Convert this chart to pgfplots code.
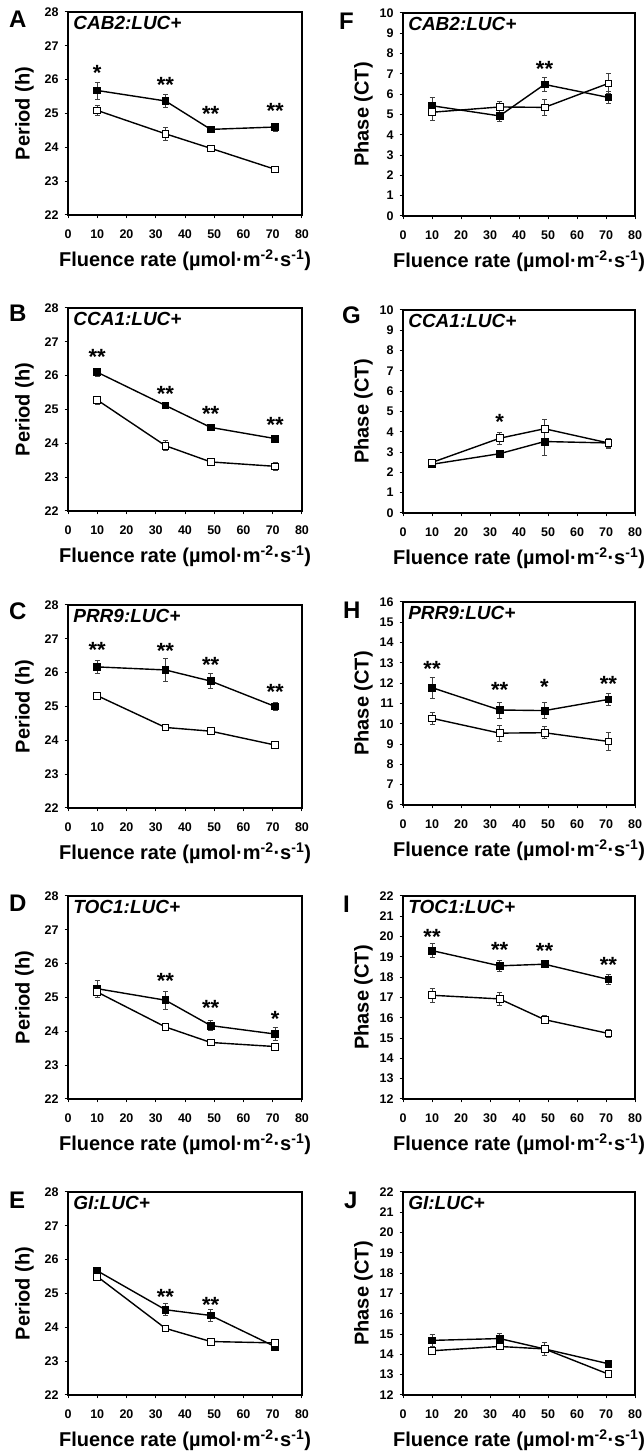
\documentclass[border=0pt]{standalone}
\usepackage{fontspec}
\setmainfont{Liberation Sans}
\usepackage{pgfplots}
\pgfplotsset{compat=1.18}

\newcommand{\tfont}{\fontsize{12.5}{12.5}\selectfont\bfseries}
\pgfplotsset{
  panel/.style={
    scale only axis, height=203pt,
    xmin=0, xmax=80, xtick={0,10,...,80},
    axis line style={line width=1.6pt},
    tick style={line width=1pt, black},
    tick align=outside, major tick length=3.5pt,
    xtick pos=bottom, ytick pos=left,
    /pgf/number format/assume math mode=true,
    xticklabel={\tfont\pgfmathprintnumber[assume math mode=true]{\tick}},
    yticklabel={\tfont\pgfmathprintnumber[assume math mode=true]{\tick}},
    xticklabel style={yshift=-8pt},
    yticklabel style={xshift=-2.5pt},
    label style={font=\fontsize{20}{20}\selectfont\bfseries},
    xlabel={Fluence rate (µmol·m\textsuperscript{-2}·s\textsuperscript{-1})},
    xlabel style={at={(axis description cs:0.5,0)}, anchor=center, yshift=-45pt},
    clip=false,
  },
  panelL/.style={panel, width=234pt,
    ylabel style={at={(axis description cs:-0.186,0.5)}, anchor=center}},
  panelR/.style={panel, width=232pt,
    ylabel style={at={(axis description cs:-0.170,0.5)}, anchor=center}},
}
\tikzset{
  gene/.style={anchor=north west, inner sep=0pt, font=\fontsize{19}{19}\selectfont\bfseries\itshape},
  star/.style={inner sep=0pt, anchor=center, yshift=-4.5pt, font=\fontsize{22}{22}\selectfont\bfseries},
  plet/.style={anchor=north west, inner sep=0pt, font=\fontsize{24}{24}\selectfont\bfseries},
}

\newcommand{\fser}[1]{\addplot[black, line width=1.4pt, mark=square*, mark size=3.4pt,
  mark options={solid, fill=black, draw=black, line width=0.8pt},
  error bars/.cd, y dir=both, y explicit,
  error bar style={line width=0.7pt, black!75},
  error mark options={rotate=90, mark size=2.5pt, line width=0.7pt, black!75}]
  table[x=x, y=y, y error=e, row sep=\\] {#1};}
\newcommand{\oser}[1]{\addplot[black, line width=1.4pt, mark=square*, mark size=3.4pt,
  mark options={solid, fill=white, draw=black, line width=0.8pt},
  error bars/.cd, y dir=both, y explicit,
  error bar style={line width=0.7pt, black!75},
  error mark options={rotate=90, mark size=2.5pt, line width=0.7pt, black!75}]
  table[x=x, y=y, y error=e, row sep=\\] {#1};}

\begin{document}
\begin{tikzpicture}[x=1pt,y=1pt]
\useasboundingbox (0,0) rectangle (644,1453);

% ---------- A ----------
\begin{axis}[panelL, at={(68pt,1238pt)}, anchor=south west,
  ymin=22, ymax=28, ytick={22,...,28}, ylabel={Period (h)}]
\fser{x y e\\ 10 25.68 0.25\\ 33.3 25.37 0.2\\ 48.8 24.53 0.08\\ 70.8 24.6 0.12\\}
\oser{x y e\\ 10 25.09 0.15\\ 33.3 24.4 0.2\\ 48.8 23.97 0.05\\ 70.8 23.35 0.1\\}
\node[gene] at (rel axis cs:0.022,0.98) {CAB2:LUC+};
\node[star] at (axis cs:10,26.33) {*};
\node[star] at (axis cs:33.3,25.97) {**};
\node[star] at (axis cs:48.8,25.11) {**};
\node[star] at (axis cs:70.8,25.2) {**};
\end{axis}

% ---------- F ----------
\begin{axis}[panelR, at={(403pt,1237pt)}, anchor=south west,
  ymin=0, ymax=10, ytick={0,...,10}, ylabel={Phase (CT)}]
\fser{x y e\\ 10 5.43 0.4\\ 33.3 4.93 0.25\\ 48.8 6.48 0.35\\ 70.8 5.84 0.3\\}
\oser{x y e\\ 10 5.11 0.4\\ 33.3 5.37 0.3\\ 48.8 5.35 0.4\\ 70.8 6.53 0.5\\}
\node[gene] at (rel axis cs:0.022,0.98) {CAB2:LUC+};
\node[star] at (axis cs:48.8,7.46) {**};
\end{axis}

% ---------- B ----------
\begin{axis}[panelL, at={(68pt,942pt)}, anchor=south west,
  ymin=22, ymax=28, ytick={22,...,28}, ylabel={Period (h)}]
\fser{x y e\\ 10 26.1 0.12\\ 33.3 25.12 0.05\\ 48.8 24.47 0.1\\ 70.8 24.14 0.1\\}
\oser{x y e\\ 10 25.28 0.12\\ 33.3 23.93 0.15\\ 48.8 23.45 0.1\\ 70.8 23.32 0.12\\}
\node[gene] at (rel axis cs:0.022,0.98) {CCA1:LUC+};
\node[star] at (axis cs:10,26.7) {**};
\node[star] at (axis cs:33.3,25.6) {**};
\node[star] at (axis cs:48.8,25.0) {**};
\node[star] at (axis cs:70.8,24.67) {**};
\end{axis}

% ---------- G ----------
\begin{axis}[panelR, at={(403pt,940pt)}, anchor=south west,
  ymin=0, ymax=10, ytick={0,...,10}, ylabel={Phase (CT)}]
\fser{x y e\\ 10 2.4 0.12\\ 33.3 2.92 0.1\\ 48.8 3.52 0.7\\ 70.8 3.45 0.2\\}
\oser{x y e\\ 10 2.49 0.12\\ 33.3 3.68 0.3\\ 48.8 4.15 0.45\\ 70.8 3.45 0.25\\}
\node[gene] at (rel axis cs:0.022,0.98) {CCA1:LUC+};
\node[star] at (axis cs:33.3,4.7) {*};
\end{axis}

% ---------- C ----------
\begin{axis}[panelL, at={(68pt,645pt)}, anchor=south west,
  ymin=22, ymax=28, ytick={22,...,28}, ylabel={Period (h)}]
\fser{x y e\\ 10 26.17 0.18\\ 33.3 26.08 0.33\\ 48.8 25.75 0.22\\ 70.8 25.0 0.12\\}
\oser{x y e\\ 10 25.32 0.1\\ 33.3 24.38 0.05\\ 48.8 24.27 0.05\\ 70.8 23.86 0.08\\}
\node[gene] at (rel axis cs:0.022,0.98) {PRR9:LUC+};
\node[star] at (axis cs:10,26.8) {**};
\node[star] at (axis cs:33.3,26.77) {**};
\node[star] at (axis cs:48.8,26.35) {**};
\node[star] at (axis cs:70.8,25.55) {**};
\end{axis}

% ---------- H ----------
\begin{axis}[panelR, at={(403pt,648pt)}, anchor=south west,
  ymin=6, ymax=16, ytick={6,...,16}, ylabel={Phase (CT)}]
\fser{x y e\\ 10 11.78 0.52\\ 33.3 10.68 0.4\\ 48.8 10.65 0.4\\ 70.8 11.2 0.3\\}
\oser{x y e\\ 10 10.27 0.3\\ 33.3 9.54 0.4\\ 48.8 9.56 0.3\\ 70.8 9.13 0.45\\}
\node[gene] at (rel axis cs:0.022,0.98) {PRR9:LUC+};
\node[star] at (axis cs:10,12.9) {**};
\node[star] at (axis cs:33.3,11.88) {**};
\node[star] at (axis cs:48.8,12.04) {*};
\node[star] at (axis cs:70.8,12.2) {**};
\end{axis}

% ---------- D ----------
\begin{axis}[panelL, at={(68pt,354pt)}, anchor=south west,
  ymin=22, ymax=28, ytick={22,...,28}, ylabel={Period (h)}]
\fser{x y e\\ 10 25.26 0.25\\ 33.3 24.92 0.27\\ 48.8 24.17 0.14\\ 70.8 23.92 0.2\\}
\oser{x y e\\ 10 25.16 0.1\\ 33.3 24.13 0.05\\ 48.8 23.67 0.04\\ 70.8 23.55 0.04\\}
\node[gene] at (rel axis cs:0.022,0.98) {TOC1:LUC+};
\node[star] at (axis cs:33.3,25.62) {**};
\node[star] at (axis cs:48.8,24.81) {**};
\node[star] at (axis cs:70.8,24.5) {*};
\end{axis}

% ---------- I ----------
\begin{axis}[panelR, at={(403pt,354pt)}, anchor=south west,
  ymin=12, ymax=22, ytick={12,...,22}, ylabel={Phase (CT)}]
\fser{x y e\\ 10 19.31 0.35\\ 33.3 18.56 0.25\\ 48.8 18.64 0.1\\ 70.8 17.89 0.25\\}
\oser{x y e\\ 10 17.11 0.35\\ 33.3 16.93 0.3\\ 48.8 15.91 0.2\\ 70.8 15.23 0.2\\}
\node[gene] at (rel axis cs:0.022,0.98) {TOC1:LUC+};
\node[star] at (axis cs:10,20.19) {**};
\node[star] at (axis cs:33.3,19.57) {**};
\node[star] at (axis cs:48.8,19.5) {**};
\node[star] at (axis cs:70.8,18.81) {**};
\end{axis}

% ---------- E ----------
\begin{axis}[panelL, at={(68pt,58pt)}, anchor=south west,
  ymin=22, ymax=28, ytick={22,...,28}, ylabel={Period (h)}]
\fser{x y e\\ 10 25.67 0.08\\ 33.3 24.52 0.18\\ 48.8 24.35 0.17\\ 70.8 23.43 0.05\\}
\oser{x y e\\ 10 25.5 0.05\\ 33.3 23.97 0.04\\ 48.8 23.58 0.07\\ 70.8 23.54 0.04\\}
\node[gene] at (rel axis cs:0.022,0.98) {GI:LUC+};
\node[star] at (axis cs:33.3,25.03) {**};
\node[star] at (axis cs:48.8,24.8) {**};
\end{axis}

% ---------- J ----------
\begin{axis}[panelR, at={(403pt,58pt)}, anchor=south west,
  ymin=12, ymax=22, ytick={12,...,22}, ylabel={Phase (CT)}]
\fser{x y e\\ 10 14.69 0.3\\ 33.3 14.78 0.25\\ 48.8 14.27 0.3\\ 70.8 13.54 0.15\\}
\oser{x y e\\ 10 14.18 0.15\\ 33.3 14.39 0.1\\ 48.8 14.27 0.3\\ 70.8 13.03 0.08\\}
\node[gene] at (rel axis cs:0.022,0.98) {GI:LUC+};
\end{axis}

% panel letters
\node[plet] at (9,1442) {A};
\node[plet] at (339,1440) {F};
\node[plet] at (9,1148) {B};
\node[plet] at (342,1146) {G};
\node[plet] at (9,850) {C};
\node[plet] at (343,851) {H};
\node[plet] at (9,558) {D};
\node[plet] at (343,557) {I};
\node[plet] at (9,261) {E};
\node[plet] at (344,261) {J};
\end{tikzpicture}
\end{document}
